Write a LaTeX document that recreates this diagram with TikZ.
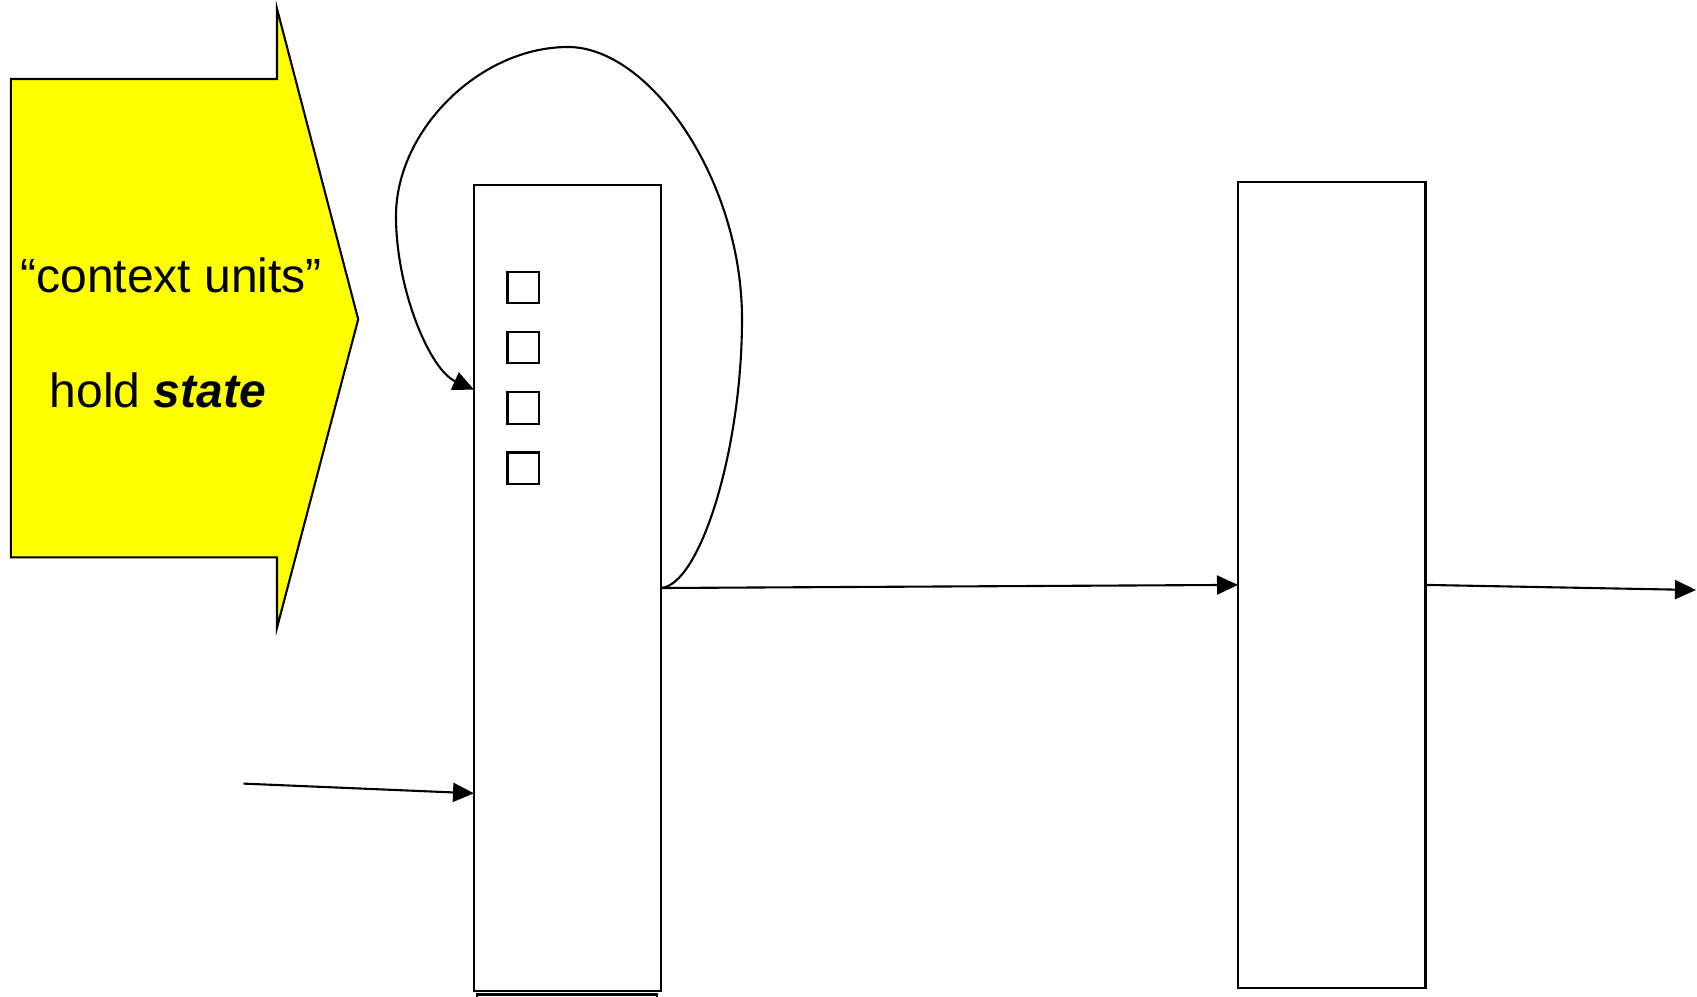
\documentclass[tikz,border=0pt]{standalone}
\usepackage{fontspec}
\setmainfont{Liberation Sans}
\usetikzlibrary{arrows.meta,calc}
\definecolor{callout}{RGB}{255,255,0}
\begin{document}
\begin{tikzpicture}[x=0.5pt,y=-0.5pt,line width=1.05pt,
  unit/.style={draw,fill=white,minimum width=93.5pt,minimum height=403pt,inner sep=0pt,outer sep=0pt},
  cell/.style={draw,minimum size=15.75pt,inner sep=0pt,outer sep=0pt},
  label/.style={anchor=base west,inner sep=0pt,font=\fontsize{24}{28}\selectfont},
  link/.style={-{Triangle[length=10.5pt,width=9.5pt]}}]
\clip (0,0) rectangle (1697,996);
\fill[white] (0,0) rectangle (1697,996);

% callout arrow
\draw[fill=callout] (10.8,79) -- (277,79) -- (277,8.7) -- (358.2,319.3)
  -- (277,627.7) -- (277,557.4) -- (10.8,557.4) -- cycle;
\node[label] (t1) at (19.5,292) {“context units”};
\node[label] (t2) at (48.7,407) {hold \textbf{\textit{state}}};

% layer boxes
\draw (477,994.5) rectangle (657,1020);
\node[unit] (A) at (567.5,588) {};
\node[unit,minimum width=93.75pt,minimum height=403.1pt] (B) at (1331.75,584.9) {};

% context cells
\foreach \i/\y in {1/287.3,2/347.6,3/407.9,4/468.2}
  \node[cell] (c\i) at (523.2,\y) {};

% connectors
\coordinate (inS) at (243.5,783.6);
\coordinate (inL) at (0,793.3);
\coordinate (fbL) at (0,389.6);
\coordinate (out) at (1696,590);
\draw[link] (inS) -- (A.west |- inL);
\draw[link] (A.east) -- (B.west);
\draw[link] (B.east) -- (out);
\draw[link] (A.east) .. controls (700,585) and (742,450) .. (742,319)
  .. controls (742,180) and (650,47) .. (568,47)
  .. controls (480,47) and (396,130) .. (396,216)
  .. controls (396,290) and (430,370) .. (A.west |- fbL);
\end{tikzpicture}
\end{document}
